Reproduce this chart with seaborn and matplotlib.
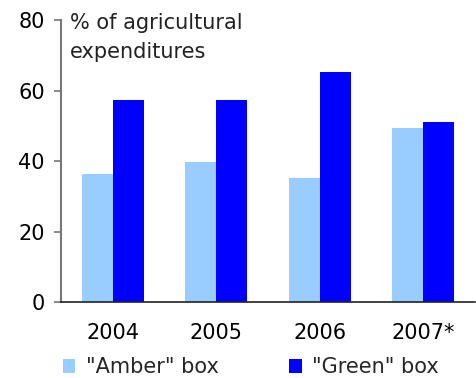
import matplotlib
matplotlib.use("Agg")
import matplotlib.pyplot as plt
import seaborn as sns
import pandas as pd
from matplotlib.ticker import FixedLocator
from matplotlib.patches import Patch

years = ["2004", "2005", "2006", "2007*"]
amber_box = [36.4, 39.7, 35.3, 49.4]
green_box = [57.4, 57.4, 65.3, 51.1]
series_names = ['"Amber" box', '"Green" box']
series_colors = ["#99CCFF", "#0000FF"]
y_ticks = [0, 20, 40, 60, 80]

df = pd.DataFrame({
    "year": years * 2,
    "value": amber_box + green_box,
    "series": [series_names[0]] * len(years) + [series_names[1]] * len(years),
})

sns.set_theme(style="white")
plt.rcParams["font.family"] = ["DejaVu Sans"]
FS = 15

fig = plt.figure(figsize=(4.76, 3.78), dpi=100)
ax = fig.add_axes([0.128, 0.201, 0.870, 0.746])

sns.barplot(data=df, x="year", y="value", hue="series",
            palette=series_colors, width=0.6, saturation=1,
            edgecolor="none", linewidth=0, ax=ax, legend=False)

ax.set_xlim(-0.5, len(years) - 0.5)
ax.set_ylim(0, 80)
ax.set_yticks(y_ticks)
ax.set_xlabel("")
ax.set_ylabel("")

# category labels sit between tick marks placed at the group boundaries
ax.tick_params(axis="x", which="major", length=0, pad=15, labelsize=FS, colors="black")
ax.xaxis.set_minor_locator(FixedLocator([i - 0.5 for i in range(len(years) + 1)]))
ax.tick_params(axis="x", which="minor", length=4.7, width=1.2, color="#333333", direction="out")
ax.tick_params(axis="y", length=4.7, width=1.2, color="#777777", direction="out",
               labelsize=FS, pad=7, left=True)
for lbl in ax.get_yticklabels():
    lbl.set_color("black")

for side in ("top", "right"):
    ax.spines[side].set_visible(False)
ax.spines["left"].set_color("#777777")
ax.spines["left"].set_linewidth(1.5)
ax.spines["bottom"].set_color("#222222")
ax.spines["bottom"].set_linewidth(1.2)

fig.text(0.147, 1 - 13 / 378, "% of agricultural\nexpenditures",
         ha="left", va="top", fontsize=FS, color="#222222", linespacing=1.55)

handles = [Patch(facecolor=c, edgecolor="none") for c in series_colors]
fig.legend(handles, series_names, loc="center", bbox_to_anchor=(0.527, 0.028),
           ncol=2, frameon=False, fontsize=FS, handlelength=0.6, handleheight=0.6,
           handletextpad=0.5, columnspacing=3.4, borderpad=0)

fig.savefig("out.png", dpi=100)
